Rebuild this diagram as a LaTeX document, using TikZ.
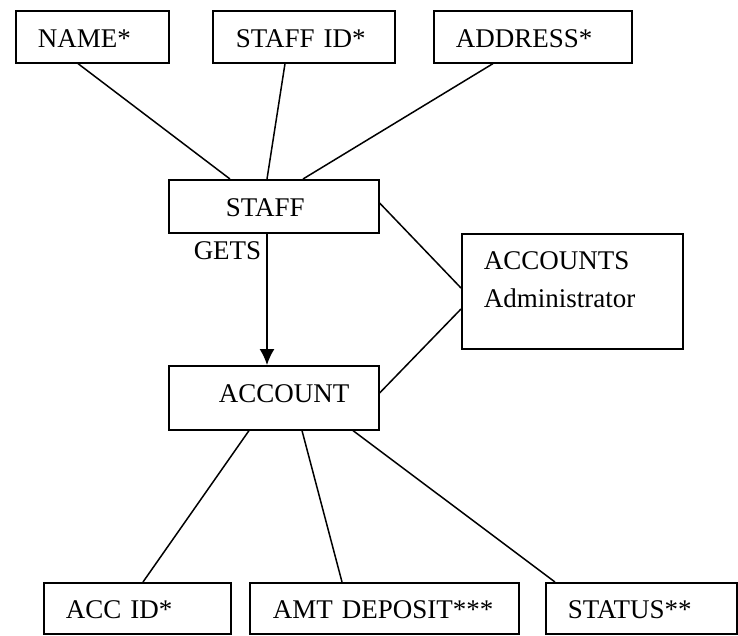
\documentclass[tikz,border=0pt]{standalone}
\usepackage{fontspec}
\setmainfont{Liberation Serif}
\usepackage{tikz}
\usetikzlibrary{arrows.meta}
\newcommand{\entfont}{\fontsize{27}{38}\selectfont}
\tikzset{entity/.style={draw, fill=white, line width=1.6pt, anchor=north west,
align=left, inner ysep=0pt, font=\entfont}}
\tikzset{link/.style={line width=1.5pt}}

\begin{document}
\begin{tikzpicture}[x=1pt, y=-1pt]
\useasboundingbox (0,0) rectangle (738,635);
\clip (0,0) rectangle (738,635);

% attributes of staff
\node [entity, inner xsep=22pt, text width=109pt, text height=37pt, text depth=15pt] (name) at (15,10) {NAME*};
\node [entity, inner xsep=23pt, text width=136pt, text height=37pt, text depth=15pt] (staffid) at (212,10) {STAFF~ID*};
\node [entity, inner xsep=22pt, text width=154pt, text height=37pt, text depth=15pt] (address) at (433,10) {ADDRESS*};

\node [entity, inner xsep=57pt, text width=96pt, text height=37pt, text depth=16pt] (staff) at (168,179) {STAFF};
\node [entity, inner xsep=50pt, text width=110pt, text height=37pt, text depth=27pt] (account) at (168,365) {ACCOUNT};
\node [entity, inner xsep=22pt, text width=177pt, text height=36pt, text depth=79pt] (admin) at (461,233) {ACCOUNTS\\Administrator};

% attributes of account
\node [entity, inner xsep=22pt, text width=143pt, text height=36pt, text depth=15pt] (accid) at (43,582) {ACC~ID*};
\node [entity, inner xsep=23pt, text width=223pt, text height=36pt, text depth=15pt] (amt) at (249,582) {AMT~DEPOSIT***};
\node [entity, inner xsep=22pt, text width=147pt, text height=36pt, text depth=15pt] (status) at (545,582) {STATUS**};

\draw [link] ([xshift=63pt]name.south west) -- ([xshift=62pt]staff.north west);
\draw [link] ([xshift=73pt]staffid.south west) -- ([xshift=99pt]staff.north west);
\draw [link] ([xshift=60pt]address.south west) -- ([xshift=135pt]staff.north west);

\draw [link, -{Latex[length=16pt, width=15pt]}] ([xshift=99pt]staff.south west) --
  node [pos=0, anchor=north east, inner sep=0pt, xshift=-5pt, yshift=-7pt, font=\entfont] (gets) {GETS}
  ([xshift=99pt]account.north west);

\draw [link] ([yshift=-24pt]staff.north east) -- ([yshift=-55pt]admin.north west);
\draw [link] ([yshift=-28pt]account.north east) -- ([yshift=-76pt]admin.north west);

\draw [link] ([xshift=81pt]account.south west) -- ([xshift=100pt]accid.north west);
\draw [link] ([xshift=134pt]account.south west) -- ([xshift=93pt]amt.north west);
\draw [link] ([xshift=185pt]account.south west) -- ([xshift=10pt]status.north west);

\end{tikzpicture}
\end{document}
